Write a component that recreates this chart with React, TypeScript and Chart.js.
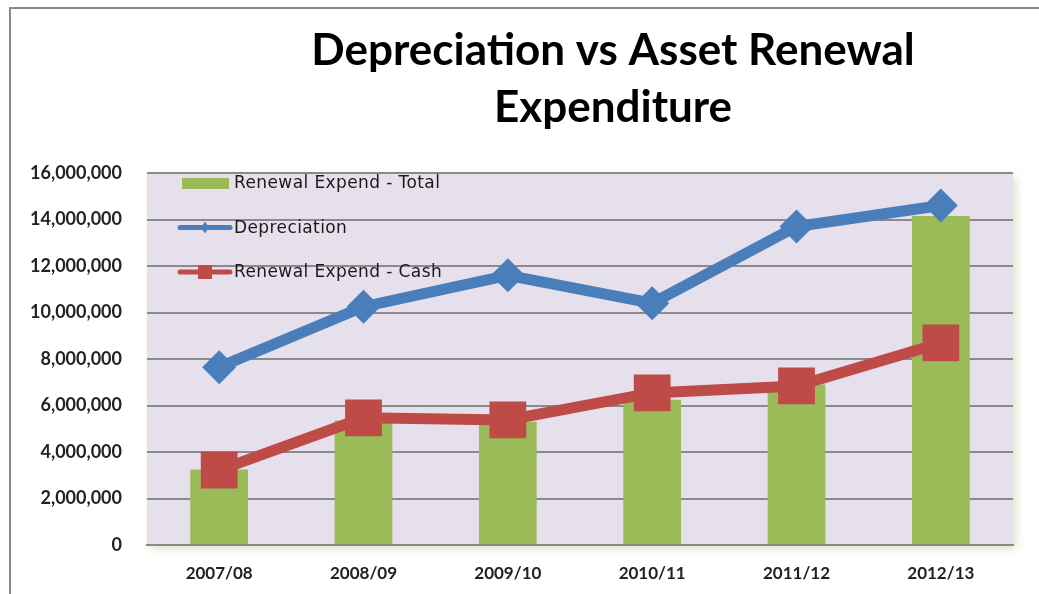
import React, { useEffect, useRef } from "react";
import { Chart, registerables } from "chart.js";

Chart.register(...registerables);

const categories = ["2007/08", "2008/09", "2009/10", "2010/11", "2011/12", "2012/13"];
const renewalTotal = [3250000, 5350000, 5300000, 6250000, 6900000, 14150000];
const depreciation = [7650000, 10250000, 11600000, 10400000, 13700000, 14600000];
const renewalCash = [3220000, 5470000, 5380000, 6540000, 6840000, 8690000];
const titleLines = ["Depreciation vs Asset Renewal", "Expenditure"];
const yMax = 16000000;
const yStep = 2000000;

const GREEN = "#9BBB59";
const BLUE = "#4A7EBB";
const RED = "#BE4B48";
const FONT = "Lato, 'Open Sans', sans-serif";
const LEGEND_FONT = "'DejaVu Sans', sans-serif";

const framePlugin = {
  id: "frame",
  beforeDraw(chart: any) {
    const { ctx, chartArea, width, height } = chart;
    ctx.save();
    ctx.fillStyle = "#ffffff";
    ctx.fillRect(0, 0, width, height);
    ctx.strokeStyle = "#8a8a8a";
    ctx.lineWidth = 2;
    ctx.beginPath();
    ctx.moveTo(width, 8);
    ctx.lineTo(10, 8);
    ctx.lineTo(10, height);
    ctx.stroke();
    ctx.shadowColor = "rgba(155,187,89,0.35)";
    ctx.shadowBlur = 8;
    ctx.shadowOffsetY = 4;
    ctx.shadowOffsetX = 3;
    ctx.fillStyle = "#E6E0EC";
    ctx.fillRect(chartArea.left, chartArea.top, chartArea.right - chartArea.left, chartArea.bottom - chartArea.top);
    ctx.restore();
  },
  afterDraw(chart: any) {
    const { ctx, chartArea } = chart;
    ctx.save();
    ctx.fillStyle = "#000000";
    ctx.textAlign = "center";
    ctx.textBaseline = "alphabetic";
    ctx.font = `bold 44px ${FONT}`;
    const cx = 613;
    ctx.fillText(titleLines[0], cx, 65);
    ctx.fillText(titleLines[1], cx, 122);

    const ds = chart.data.datasets;
    const lx = chartArea.left + 33;
    const ly = chartArea.top + 10;
    const gap = 44.5;
    ctx.font = `17px ${LEGEND_FONT}`;
    try {
      (ctx as any).letterSpacing = "0.4px";
    } catch (e) {}
    ctx.textAlign = "left";
    ctx.textBaseline = "middle";
    [0, 1, 2].forEach((i, k) => {
      const y = ly + k * gap;
      const d = ds[i];
      if (d.type === "bar") {
        ctx.fillStyle = d.backgroundColor;
        ctx.fillRect(lx + 2, y - 5, 47, 11);
      } else {
        ctx.strokeStyle = d.borderColor;
        ctx.lineWidth = 5;
        ctx.lineCap = "round";
        ctx.beginPath();
        ctx.moveTo(lx, y);
        ctx.lineTo(lx + 50, y);
        ctx.stroke();
        ctx.fillStyle = d.borderColor;
        ctx.beginPath();
        if (d.pointStyle === "rectRot") {
          ctx.moveTo(lx + 25, y - 6);
          ctx.lineTo(lx + 29, y);
          ctx.lineTo(lx + 25, y + 6);
          ctx.lineTo(lx + 21, y);
          ctx.closePath();
          ctx.fill();
        } else {
          ctx.fillRect(lx + 18, y - 7, 14, 14);
        }
      }
      ctx.fillStyle = "#1a1a1a";
      ctx.fillText(d.label, lx + 54, y + 1);
    });
    ctx.restore();
  },
};

export default function App() {
  const ref = useRef<HTMLCanvasElement>(null);
  useEffect(() => {
    document.body.style.margin = "0";
    const canvas = ref.current!;
    const chart = new Chart(canvas, {
      type: "bar",
      data: {
        labels: categories,
        datasets: [
          {
            type: "bar",
            label: "Renewal Expend - Total",
            data: renewalTotal,
            backgroundColor: GREEN,
            barPercentage: 0.4,
            categoryPercentage: 1,
            order: 3,
          } as any,
          {
            type: "line",
            label: "Depreciation",
            data: depreciation,
            borderColor: BLUE,
            backgroundColor: BLUE,
            borderWidth: 11,
            pointStyle: "rectRot",
            pointRadius: 17,
            pointBorderWidth: 0,
            pointBackgroundColor: BLUE,
            tension: 0,
            order: 2,
          },
          {
            type: "line",
            label: "Renewal Expend - Cash",
            data: renewalCash,
            borderColor: RED,
            backgroundColor: RED,
            borderWidth: 11,
            pointStyle: "rect",
            pointRadius: 26,
            pointBorderWidth: 0,
            pointBackgroundColor: RED,
            tension: 0,
            order: 1,
          },
        ],
      },
      options: {
        responsive: false,
        animation: false,
        layout: { padding: { left: 0, right: 13, top: 173, bottom: 0 } },
        plugins: {
          legend: { display: false },
          title: { display: false },
          tooltip: { enabled: false },
        },
        scales: {
          x: {
            grid: { display: false, drawTicks: false },
            border: { display: true, color: "#8a8a8a", width: 2 },
            ticks: {
              color: "#222222",
              font: { family: FONT, size: 17, weight: "bold" },
              padding: 18,
              maxRotation: 0,
            },
            afterFit: (s: any) => {
              s.height = 49;
            },
          },
          y: {
            min: 0,
            max: yMax,
            grid: { color: "#8a8a8a", lineWidth: 2, drawTicks: false },
            border: { display: false },
            ticks: {
              stepSize: yStep,
              color: "#222222",
              font: { family: FONT, size: 18, weight: "bold" },
              padding: 25,
              callback: (v: any) => Number(v).toLocaleString("en-US"),
            },
            afterFit: (s: any) => {
              s.width = 147;
            },
          },
        },
      },
      plugins: [framePlugin],
    });
    return () => chart.destroy();
  }, []);
  return <canvas ref={ref} width={1039} height={594} style={{ display: "block" }} />;
}
